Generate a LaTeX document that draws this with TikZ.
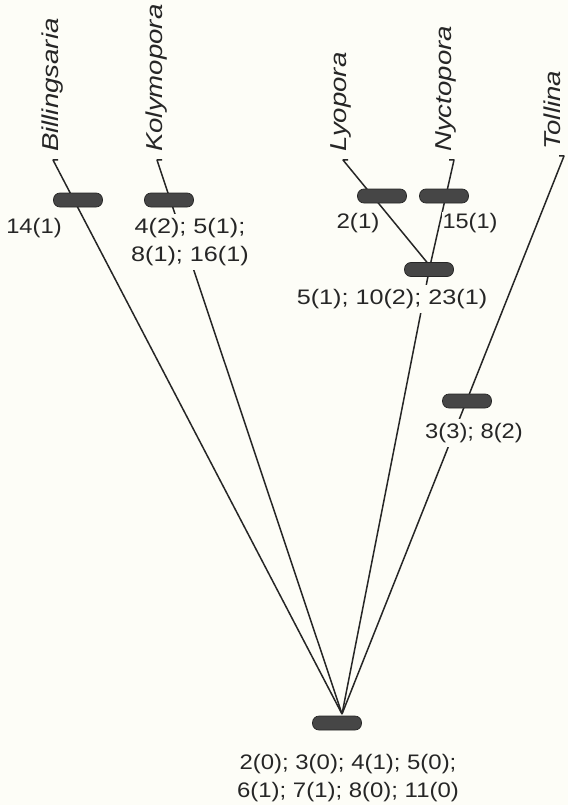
\documentclass[tikz,border=0pt]{standalone}
\usepackage{fontspec}
\usepackage{graphicx}
\setmainfont{Liberation Sans}
\definecolor{bg}{RGB}{253,253,247}
\definecolor{ink}{RGB}{38,38,38}
\definecolor{barfill}{RGB}{70,70,70}
\newcommand{\sxt}[2]{\scalebox{#1}[1]{#2}}
\begin{document}
\begin{tikzpicture}[x=1pt,y=-1pt,
  br/.style={line width=1.5pt, draw=ink, line join=round},
  bar/.style={draw=black!85, fill=barfill, rounded corners=6.5pt, minimum width=49pt, minimum height=14pt, inner sep=0pt, line width=0.7pt},
  taxon/.style={rotate=90, anchor=west, inner sep=0pt, text height=16.5pt, text depth=4.8pt, font=\fontsize{23}{27}\selectfont\itshape, text=ink},
  num/.style={font=\fontsize{21}{28}\selectfont, align=center, fill=bg, inner xsep=1pt, inner ysep=4pt, text=ink}]
\fill[bg] (0,0) rectangle (568,805);
\useasboundingbox (0,0) rectangle (568,805);
% taxa
\node[taxon] (tB) at (53,152) {\sxt{1.2}{Billingsaria}};
\node[taxon] (tK) at (157,152) {\sxt{1.2}{Kolymopora}};
\node[taxon] (tL) at (341,152) {\sxt{1.2}{Lyopora}};
\node[taxon] (tN) at (446,152) {\sxt{1.2}{Nyctopora}};
\node[taxon] (tT) at (555,150) {\sxt{1.2}{Tollina}};
% branch ends and junctions
\coordinate (R) at (342,714);
\coordinate (C) at (430,266);
\coordinate (eB) at (53,160);  \coordinate (kB) at (58,160);
\coordinate (eK) at (157,160); \coordinate (kK) at (162,160);
\coordinate (eL) at (343,160); \coordinate (kL) at (348,160);
\coordinate (eN) at (454,160); \coordinate (kN) at (449,160);
\coordinate (eT) at (564,156); \coordinate (kT) at (559,156);
% branches
\draw[br] (kB) -- (eB) -- (R);
\draw[br] (kK) -- (eK) -- (R);
\draw[br] (kL) -- (eL) -- (C);
\draw[br] (kN) -- (eN) -- (C);
\draw[br] (C) -- (R);
\draw[br] (kT) -- (eT) -- (R);
% bars
\node[bar] (bB) at (78,200) {};
\node[bar] (bK) at (169,200) {};
\node[bar] (bL) at (382,196) {};
\node[bar] (bN) at (444,196) {};
\node[bar] (bC) at (429,269.5) {};
\node[bar] (bT) at (467,401) {};
\node[bar] (b0) at (337,723) {};
% labels
\node[num] (lB) at (34,228) {\sxt{1.13}{14(1)}};
\node[num] (lK) at (190,242) {\sxt{1.2}{4(2); 5(1);}\\\sxt{1.2}{8(1); 16(1)}};
\node[num, inner ysep=1pt] (lL) at (358,223) {\sxt{1.15}{2(1)}};
\node[num, inner ysep=1pt] (lN) at (470,223) {\sxt{1.12}{15(1)}};
\node[num] (lC) at (392,299) {\sxt{1.2}{5(1); 10(2); 23(1)}};
\node[num] (lT) at (474,433) {\sxt{1.13}{3(3); 8(2)}};
\node[num] (l0) at (348,778) {\sxt{1.14}{2(0); 3(0); 4(1); 5(0);}\\\sxt{1.14}{6(1); 7(1); 8(0); 11(0)}};
\end{tikzpicture}
\end{document}
